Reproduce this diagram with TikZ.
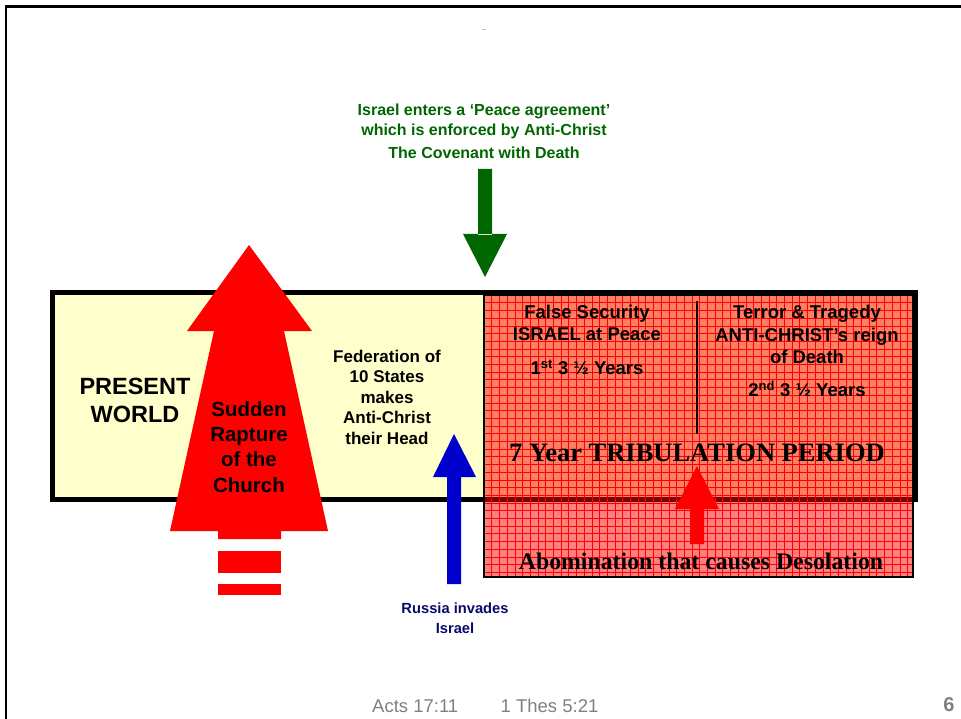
\documentclass[tikz,border=0pt]{standalone}
\usepackage{fontspec}
\setmainfont{Liberation Sans}
\newfontfamily\timesbf[BoldFont={Liberation Serif Bold}]{Liberation Serif}
\usetikzlibrary{positioning}
\definecolor{worldyellow}{HTML}{FFFFCC}
\definecolor{peacegreen}{HTML}{006600}
\definecolor{russiablue}{HTML}{0000CC}
\definecolor{russianavy}{HTML}{0A0A6A}
\definecolor{footgray}{HTML}{808080}
\newcommand\fsz[2]{\fontsize{#1}{#2}\selectfont\bfseries}

\begin{document}
\begin{tikzpicture}[x=1pt,y=-1pt,
    txt/.style={align=center,inner sep=0pt},
    foot/.style={inner sep=0pt,text=footgray,font=\fontsize{18.5}{22}\selectfont}]
    \useasboundingbox (0,0) rectangle (961,719);
    % slide frame
    \draw[line width=2.7pt] (6,719) -- (6,6.5) -- (961,6.5);
    \draw[gray!50,line width=0.8pt] (482,29) -- (486,29);

    % the whole time line
    \draw[fill=worldyellow,line width=5pt] (52.5,292.5) rectangle (915.5,499.5);

    % tribulation box, red grid laid over
    \fill[red,opacity=0.5] (484,295) rectangle (913,577);
    \begin{scope}
        \clip (484,295) rectangle (913,577);
        \foreach \gx in {484,491.7,...,914}
            \draw[red,line width=0.6pt] (\gx,295) -- (\gx,577);
        \foreach \gy in {295,302.7,...,578}
            \draw[red,line width=0.6pt] (484,\gy) -- (913,\gy);
    \end{scope}
    \draw[line width=1.6pt] (484,295) rectangle (913,577);
    \draw[line width=2.5pt] (697,301) -- (697,434);

    % rapture arrow
    \fill[red] (249,245) -- (312,331) -- (284,331) -- (328,531) -- (281,531) -- (281,539)
        -- (218,539) -- (218,531) -- (170,531) -- (214,331) -- (187,331) -- cycle;
    \fill[red] (218,551) rectangle (281,573);
    \fill[red] (218,584) rectangle (281,595);

    % covenant arrow
    \fill[peacegreen] (478,169) rectangle (492,235) (463,234) -- (507,234) -- (485,277) -- cycle;
    % russia arrow
    \fill[russiablue] (447,476) rectangle (461,584) (433,477) -- (476,477) -- (454,434) -- cycle;
    % abomination arrow
    \fill[red] (690,508) rectangle (704,544) (675,509) -- (719,509) -- (697,466) -- cycle;

    \node[txt,font=\fsz{23.5}{28}] (world) at (135,400) {PRESENT\\WORLD};
    \node[txt,font=\fsz{20.5}{25.3}] (rapture) at (249,447) {Sudden\\Rapture\\of the\\Church};
    \node[txt,font=\fsz{17}{20.5}] (federation) at (387,397) {Federation of\\10 States\\makes\\Anti-Christ\\their Head};
    \node[txt,text=peacegreen,font=\fsz{16}{20}] (peacetxt) at (484,131)
        {Israel enters a ‘Peace agreement’\\which is enforced by Anti-Christ\\[3pt]The Covenant with Death};
    \node[txt,font=\fsz{18.5}{22}] (falsesec) at (587,340)
        {False Security\\ISRAEL at Peace\\[12pt]1\textsuperscript{st} 3 ½ Years};
    \node[txt,font=\fsz{18.5}{22.5}] (terror) at (807,351)
        {Terror \& Tragedy\\ANTI-CHRIST’s reign\\of Death\\[10pt]2\textsuperscript{nd} 3 ½ Years};
    \node[txt,font=\timesbf\fsz{26.5}{30}] (tribulation) at (697,453) {7 Year TRIBULATION PERIOD};
    \node[txt,font=\timesbf\fsz{23.8}{28}] (abomination) at (701,561) {Abomination that causes Desolation};
    \node[txt,text=russianavy,font=\fsz{14.7}{20}] (russia) at (455,618) {Russia invades\\Israel};

    \node[foot,anchor=base west] (acts) at (372,712) {Acts 17:11};
    \node[foot,base right=42pt of acts] (thes) {1 Thes 5:21};
    \node[foot,font=\fsz{20}{24}] (pagenum) at (949,705) {6};
\end{tikzpicture}
\end{document}
